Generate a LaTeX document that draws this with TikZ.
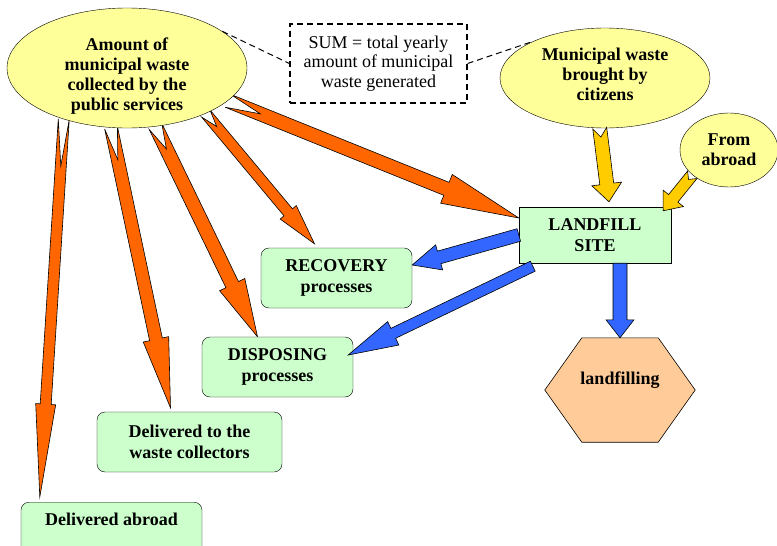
\documentclass[tikz,border=0pt]{standalone}
\usepackage{fontspec}
\setmainfont{LiberationSerif}[Extension=.ttf,UprightFont=*-Regular,BoldFont=*-Bold,
  ItalicFont=*-Italic,BoldItalicFont=*-BoldItalic]
\usetikzlibrary{shapes.geometric,calc,backgrounds}

\definecolor{cloudfill}{HTML}{FFFF99}
\definecolor{boxfill}{HTML}{CCFFCC}
\definecolor{hexfill}{HTML}{FFCC99}
\definecolor{flowor}{HTML}{FF6600}
\definecolor{flowbl}{HTML}{3366FF}
\definecolor{flowgd}{HTML}{FFCC00}

% block arrow: style, from, to, half shaft, half head, head length, notch
\newcommand{\blockarrow}[7]{%
  \path (#2) coordinate (ba tail) (#3) coordinate (ba tip);
  \path ($(ba tip)!#6!(ba tail)$) coordinate (ba base);
  \filldraw[#1] ($(ba tail)!#4!90:(ba tip)$) -- ($(ba base)!#4!90:(ba tip)$)
    -- ($(ba base)!#5!90:(ba tip)$) -- (ba tip)
    -- ($(ba base)!#5!-90:(ba tip)$) -- ($(ba base)!#4!-90:(ba tip)$)
    -- ($(ba tail)!#4!-90:(ba tip)$) -- ($(ba tail)!#7!(ba tip)$) -- cycle;
}

\begin{document}
\begin{tikzpicture}[
  x=1pt, y=-1pt,
  cloud/.style={ellipse,draw,fill=cloudfill,inner sep=0pt,align=center,
    font=\bfseries\fontsize{18}{20}\selectfont},
  procbox/.style={draw,fill=boxfill,rounded corners=8pt,align=center,
    minimum width=151pt,minimum height=60pt,inner sep=2pt,
    font=\bfseries\fontsize{18}{21}\selectfont},
  sitebox/.style={draw,fill=boxfill,align=center,minimum width=152pt,
    minimum height=56pt,inner sep=2pt,font=\bfseries\fontsize{18}{21}\selectfont},
  sumbox/.style={draw,dash pattern=on 6pt off 4pt,line width=1.2pt,align=center,
    minimum width=177pt,minimum height=79pt,inner sep=2pt,
    font=\fontsize{18}{19.5}\selectfont},
  sumlink/.style={dash pattern=on 6pt off 4pt,line width=1pt},
  orflow/.style={fill=flowor,draw=black,line width=0.6pt},
  blflow/.style={fill=flowbl,draw=black,line width=0.6pt},
  gdflow/.style={fill=flowgd,draw=black,line width=0.6pt}
]
\useasboundingbox (0,0) rectangle (777,546);

\node[cloud,minimum width=240pt,minimum height=120pt,text height=84pt,text depth=0pt]
  (amount) at (127,68)
  {Amount of\\municipal waste\\collected by the\\public services};
\node[sumbox] (sum) at (378.5,63.5)
  {SUM = total yearly\\amount of municipal\\waste generated};
\node[cloud,minimum width=210pt,minimum height=100pt,text depth=8pt] (citizens) at (605,78)
  {Municipal waste\\brought by\\citizens};
\node[cloud,minimum width=98pt,minimum height=74pt] (abroad) at (729,150)
  {From\\abroad};

\node[sitebox] (landfill) at (595,235) {LANDFILL\\SITE};
\node[procbox] (recovery) at (336.5,278) {RECOVERY\\processes};
\node[procbox] (disposing) at (277.5,367) {DISPOSING\\processes};
\node[procbox,minimum width=185pt] (collectors) at (189.5,442)
  {Delivered to the\\waste collectors};
\node[procbox,anchor=north,minimum width=181pt,text depth=25pt] (delabroad) at (111.5,502)
  {Delivered abroad};
\node[inner sep=0pt,minimum width=150pt,minimum height=104pt,text depth=24pt,
  font=\bfseries\fontsize{18}{20}\selectfont] (landfilling) at (620,390) {landfilling};

\draw[sumlink] (amount.21) -- (sum.west);
\draw[sumlink] (sum.east) -- (citizens.153);

\begin{scope}[on background layer]
  \filldraw[fill=hexfill,draw=black,line width=0.6pt] (landfilling.west)
    -- ([xshift=37pt]landfilling.north west) -- ([xshift=-37pt]landfilling.north east)
    -- (landfilling.east) -- ([xshift=-37pt]landfilling.south east)
    -- ([xshift=37pt]landfilling.south west) -- cycle;
  % flows out of the collected amount
  \blockarrow{orflow}{amount.219}{[xshift=19pt,yshift=5pt]delabroad.north west}{5.5pt}{10pt}{93pt}{47pt}
  \blockarrow{orflow}{amount.255}{[xshift=-19pt,yshift=4pt]collectors.north}{6.5pt}{13pt}{70pt}{33pt}
  \blockarrow{orflow}{amount.296}{[xshift=-20pt]disposing.north}{7pt}{14pt}{58pt}{25pt}
  \blockarrow{orflow}{amount.330}{[xshift=-22pt,yshift=4pt]recovery.north}{5.5pt}{10.5pt}{41pt}{17pt}
  \blockarrow{orflow}{amount.342}{[yshift=17pt]landfill.west}{7pt}{15.5pt}{78pt}{35pt}
\end{scope}

% flows out of the landfill site
\blockarrow{blflow}{landfill.west}{[yshift=13pt]recovery.east}{6.5pt}{13pt}{28pt}{0pt}
\blockarrow{blflow}{[xshift=14pt,yshift=-3pt]landfill.south west}{[xshift=-5pt,yshift=12pt]disposing.east}{5.5pt}{13pt}{50pt}{0pt}
\blockarrow{blflow}{landfill.south -| landfilling.north}{landfilling.north}{7pt}{14pt}{18pt}{0pt}

% flows into the landfill site
\blockarrow{gdflow}{citizens.264}{[xshift=14pt,yshift=5pt]landfill.north}{7pt}{15pt}{18pt}{9pt}
\blockarrow{gdflow}{abroad.214}{[xshift=-8pt,yshift=-4pt]landfill.north east}{6pt}{13pt}{16pt}{6pt}
\end{tikzpicture}
\end{document}
